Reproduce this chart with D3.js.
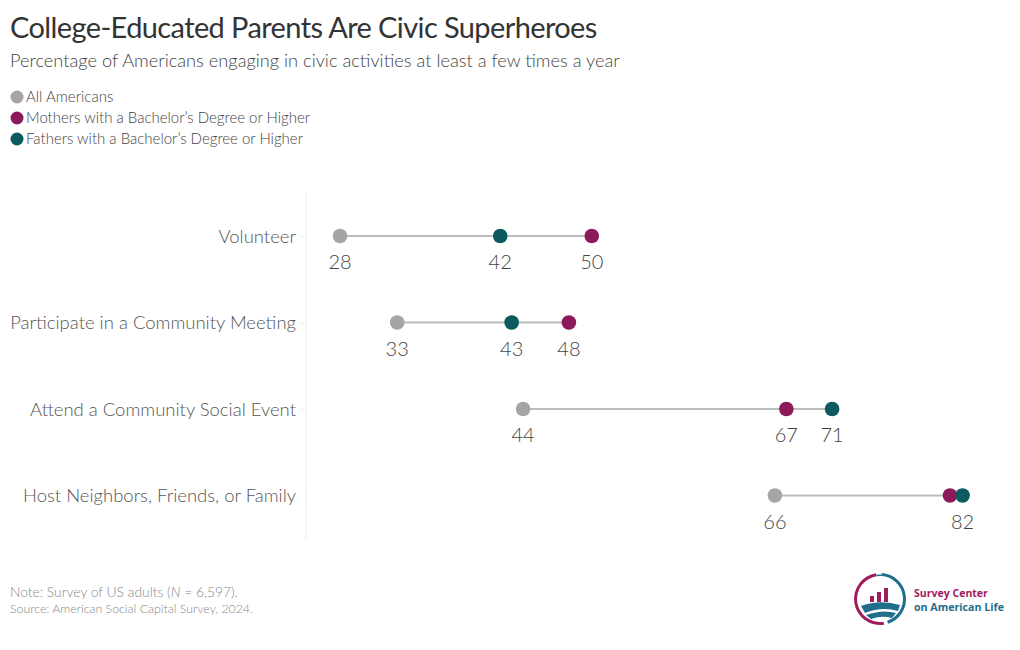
<!DOCTYPE html>
<html>
<head>
<meta charset="utf-8">
<script src="https://cdn.jsdelivr.net/npm/d3@7"></script>
<style>
  html, body { margin: 0; padding: 0; background: #fff; }
  svg { display: block; font-family: Lato, "Open Sans", sans-serif; }
</style>
</head>
<body>
<svg id="chart" width="1020" height="650"></svg>
<script>
// ---- data ----
const categories = ["Volunteer", "Participate in a Community Meeting", "Attend a Community Social Event", "Host Neighbors, Friends, or Family"];
const allAmericans = [28, 33, 44, 66];
const mothers = [50, 48, 67, 81.3];
const fathers = [42, 43, 71, 82.4];
const seriesNames = ["All Americans", "Mothers with a Bachelor\u2019s Degree or Higher", "Fathers with a Bachelor\u2019s Degree or Higher"];
const seriesColors = ["#a7a4a5", "#8c1a5b", "#0c5a5f"];

const titleText = "College-Educated Parents Are Civic Superheroes";
const subtitleText = "Percentage of Americans engaging in civic activities at least a few times a year";

const svg = d3.select("#chart");

// fit text to a target width by scaling its font size
function fitWidth(sel, target) {
  const w = sel.node().getComputedTextLength();
  const fs = parseFloat(sel.style("font-size"));
  sel.style("font-size", (fs * target / w) + "px");
}

// ---- title & subtitle ----
const title = svg.append("text").attr("x", 10).attr("y", 38)
  .style("font-size", "30px").style("font-weight", 400).style("fill", "#333")
  .style("letter-spacing", "-0.6px")
  .text(titleText);
fitWidth(title, 588);

const subtitle = svg.append("text").attr("x", 10).attr("y", 67)
  .style("font-size", "19px").style("font-weight", 300).style("fill", "#444")
  .text(subtitleText);
fitWidth(subtitle, 610);

// ---- legend ----
const legend = svg.append("g");
seriesNames.forEach((name, i) => {
  const y = 97 + i * 21;
  legend.append("circle").attr("cx", 17).attr("cy", y).attr("r", 6.5).attr("fill", seriesColors[i]);
  legend.append("text").attr("x", 26).attr("y", y + 5)
    .style("font-size", "15px").style("font-weight", 300).style("fill", "#444")
    .text(name);
});

// ---- scales ----
const x = d3.scaleLinear().domain([28, 82]).range([340, 958]);
const y = d3.scalePoint().domain(categories).range([236, 495.5]);

// ---- axis ----
const axis = svg.append("g").attr("transform", "translate(306,0)")
  .call(d3.axisLeft(y).tickSize(6).tickPadding(4));
axis.select(".domain").remove();
axis.selectAll(".tick line").attr("stroke", "#eeeeee");
const tickTexts = axis.selectAll(".tick text")
  .style("font-family", "Lato, sans-serif").style("font-size", "20px")
  .style("font-weight", 300).style("fill", "#555").attr("dy", "0.35em");
// shrink category labels so the longest one fits in the left margin
const maxW = d3.max(tickTexts.nodes(), n => n.getComputedTextLength());
tickTexts.style("font-size", (20 * 286 / maxW) + "px");

svg.append("line").attr("x1", 306).attr("x2", 306).attr("y1", 190).attr("y2", 540)
  .attr("stroke", "#eeeeee").attr("stroke-width", 1);

// ---- rows ----
const rows = categories.map((c, i) => ({
  cat: c,
  vals: [allAmericans[i], mothers[i], fathers[i]]
}));

const plot = svg.append("g");
rows.forEach(r => {
  const yy = y(r.cat);
  plot.append("line")
    .attr("x1", x(d3.min(r.vals))).attr("x2", x(d3.max(r.vals)))
    .attr("y1", yy).attr("y2", yy)
    .attr("stroke", "#bdbcbc").attr("stroke-width", 2);
  r.vals.forEach((v, j) => {
    plot.append("circle").attr("cx", x(v)).attr("cy", yy).attr("r", 7.3).attr("fill", seriesColors[j]);
  });
  // labels: where two labels would collide, keep the one with the larger value
  const sorted = r.vals.map(v => v).sort((a, b) => b - a);
  const placed = [];
  sorted.forEach(v => {
    if (placed.some(p => Math.abs(x(p) - x(v)) < 24)) return;
    placed.push(v);
    plot.append("text").attr("x", x(v)).attr("y", yy + 33)
      .attr("text-anchor", "middle")
      .style("font-size", "20px").style("font-weight", 300).style("fill", "#444")
      .text(d3.format(".0f")(v));
  });
});

// ---- footer ----
const note = svg.append("text").attr("x", 10).attr("y", 597)
  .style("font-size", "13px").style("font-weight", 300).style("fill", "#888");
note.append("tspan").text("Note: Survey of US adults (");
note.append("tspan").style("font-style", "italic").text("N");
note.append("tspan").text(" = 6,597).");
fitWidth(note, 228);
const src = svg.append("text").attr("x", 10).attr("y", 613)
  .style("font-size", "13px").style("font-weight", 300).style("fill", "#888")
  .text("Source: American Social Capital Survey, 2024.");
fitWidth(src, 243);

// ---- logo ----
const logo = svg.append("g").attr("transform", "translate(880,599)");
const arc = d3.arc().innerRadius(23).outerRadius(26);
logo.append("path").attr("d", arc({startAngle: -Math.PI * 0.05, endAngle: -Math.PI * 1.05})).attr("fill", "#a01c5d");
logo.append("path").attr("d", arc({startAngle: Math.PI * 0.02, endAngle: Math.PI * 0.9})).attr("fill", "#1f6e8c");
logo.append("path").attr("d", d3.arc().innerRadius(23).outerRadius(24.5)({startAngle: -Math.PI * 0.05, endAngle: Math.PI * 0.02})).attr("fill", "#1f6e8c");
// bars
[[-10, 4, 6], [-3, 4, 10], [4, 4, 14]].forEach(b => {
  logo.append("rect").attr("x", b[0]).attr("y", 3 - b[2]).attr("width", b[1]).attr("height", b[2]).attr("fill", "#a01c5d");
});
// hills
logo.append("path").attr("d", "M-19,7 Q0,0 20,6 L18,12 Q2,7 -15,14 Z").attr("fill", "#1f6e8c");
logo.append("path").attr("d", "M-14,16 Q3,10 16,14 L12,19 Q2,16 -9,20 Z").attr("fill", "#1f6e8c");
const l1 = logo.append("text").attr("x", 34).attr("y", -2)
  .style("font-family", "'Open Sans', sans-serif").style("font-size", "11px").style("font-weight", 700).style("fill", "#a01c5d")
  .text("Survey Center");
fitWidth(l1, 74);
const l2 = logo.append("text").attr("x", 34).attr("y", 12)
  .style("font-family", "'Open Sans', sans-serif").style("font-size", "11px").style("font-weight", 700).style("fill", "#1f6e8c")
  .text("on American Life");
fitWidth(l2, 90);
</script>
</body>
</html>
